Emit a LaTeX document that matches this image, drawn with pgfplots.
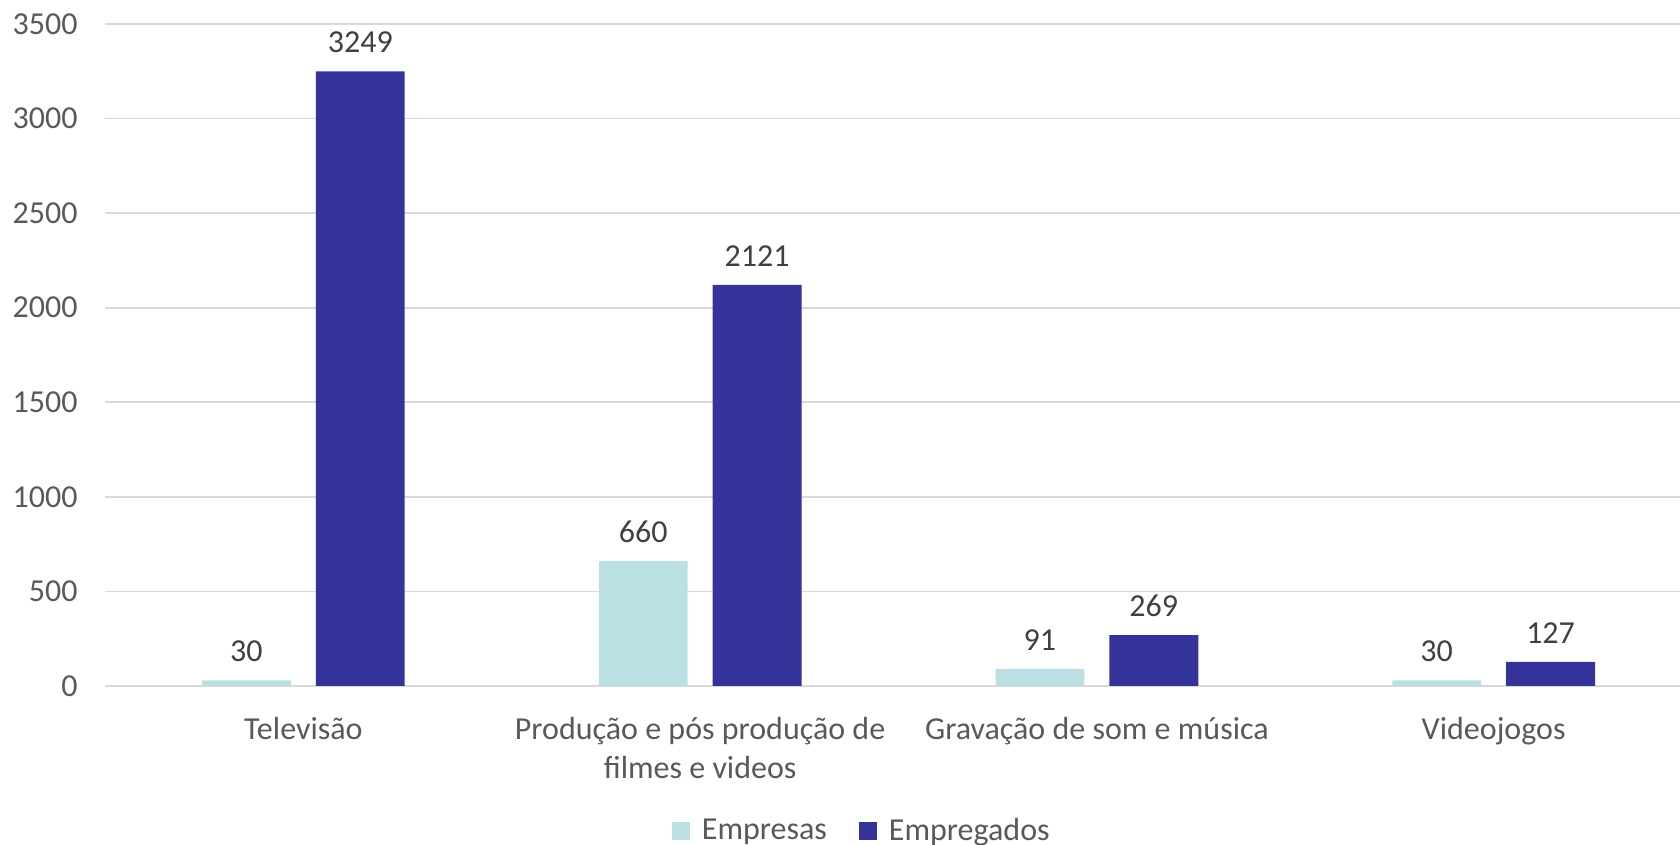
\documentclass[border=0pt]{standalone}
\usepackage{fontspec}
\setmainfont{Carlito}
\usepackage{pgfplots}
\pgfplotsset{compat=1.18}
\definecolor{lightc}{HTML}{BAE0E3}
\definecolor{darkc}{HTML}{333399}
\definecolor{gridc}{HTML}{D9D9D9}
\definecolor{txt}{HTML}{595959}
\definecolor{lbl}{HTML}{404040}
\begin{document}
\begin{tikzpicture}
\useasboundingbox (0pt,0pt) rectangle (840pt,422.5pt);
\begin{axis}[
  at={(52.5pt,79.5pt)}, anchor=south west,
  scale only axis, width=793.5pt, height=331pt,
  xmin=-0.5, xmax=3.5, ymin=0, ymax=3500,
  ytick={0,500,...,3500},
  xtick={0,1,2,3},
  xticklabels={Televisão,{Produção e pós produção de\\filmes e videos},Gravação de som e música,Videojogos},
  axis line style={draw=none}, tick style={draw=none},
  ymajorgrids, grid style={gridc, line width=0.8pt},
  /pgf/number format/assume math mode=true,
  /pgf/number format/1000 sep={},
  tick label style={font=\fontsize{16}{19.5}\selectfont, color=txt, inner sep=0pt},
  yticklabel style={anchor=east, xshift=-13.5pt},
  xticklabel style={anchor=north, align=center, yshift=-11pt},
  ybar, bar width=0.224,
  nodes near coords,
  nodes near coords style={font=\fontsize{16}{19.5}\selectfont, color=lbl, inner sep=0pt, anchor=south, yshift=9pt},
  legend columns=2,
  legend style={at={(rel axis cs:0.4775,-0.219)}, anchor=center, draw=none, fill=none,
    font=\fontsize{16}{19.5}\selectfont, text=txt, inner sep=0pt,
    /tikz/every odd column/.append style={column sep=4pt},
    /tikz/every even column/.append style={column sep=14pt}},
  legend image code/.code={\fill[#1] (0pt,-4.5pt) rectangle (9pt,4.5pt);},
  clip=false,
]
\addplot[fill=lightc, draw=none, bar shift=-0.1435] coordinates {(0,30) (1,660) (2,91) (3,30)};
\addplot[fill=darkc, draw=none, bar shift=0.1435] coordinates {(0,3249) (1,2121) (2,269) (3,127)};
\legend{Empresas,Empregados}
\end{axis}
\end{tikzpicture}
\end{document}
